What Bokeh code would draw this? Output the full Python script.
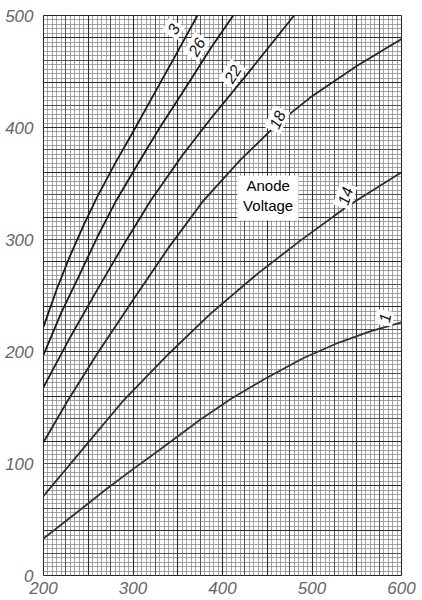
from bokeh.plotting import figure
from bokeh.models import Range1d, FixedTicker, SingleIntervalTicker, Grid, Label, BoxAnnotation
from bokeh.embed import file_html
from bokeh.resources import INLINE

# ---- data ----
x_ticks = [200, 300, 400, 500, 600]
y_ticks = [0, 100, 200, 300, 400, 500]

curve_names = ["3", "26", "22", "18", "14", "1"]
c3_x = [200, 215, 230, 245, 260, 280, 300, 325, 350, 372]
c3_y = [222, 256, 286, 313, 338, 368, 396, 432, 468, 500]
c26_x = [200, 220, 240, 260, 280, 305, 330, 360, 387, 412]
c26_y = [197, 235, 268, 302, 333, 367, 400, 437, 471, 500]
c22_x = [200, 230, 260, 290, 320, 355, 387, 431, 480]
c22_y = [168, 213, 255, 296, 335, 375, 408, 451, 500]
c18_x = [200, 227, 260, 300, 340, 379, 420, 461, 500, 550, 600]
c18_y = [119, 156, 198, 246, 293, 335, 371, 403, 428, 455, 479]
c14_x = [200, 245, 289, 340, 387, 440, 487, 540, 600]
c14_y = [71, 114, 156, 198, 234, 270, 299, 330, 360]
c10_x = [200, 240, 270, 300, 331, 375, 410, 446, 490, 530, 565, 600]
c10_y = [33, 58, 77, 95, 113, 139, 158, 175, 194, 208, 218, 226]

label_x = [345, 371, 411, 461, 537, 581]
label_y = [488, 472, 448, 407, 339, 230]
label_angle = [60, 60, 58, 65, 72, 80]

curves_x = [c3_x, c26_x, c22_x, c18_x, c14_x, c10_x]
curves_y = [c3_y, c26_y, c22_y, c18_y, c14_y, c10_y]
curve_colors = ["#1a1a1a", "#1a1a1a", "#1f1f1f", "#262626", "#2e2e2e", "#333333"]

FONT = "Liberation Sans"

p = figure(width=422, height=600, output_backend="svg", toolbar_location=None,
           x_range=Range1d(200, 600), y_range=Range1d(0, 500),
           min_border_left=43, min_border_right=21, min_border_top=15, min_border_bottom=25)
p.background_fill_color = "white"
p.border_fill_color = "white"
p.outline_line_color = "#222222"
p.outline_line_width = 1

# graph-paper grid
p.xgrid.visible = False
p.ygrid.visible = False
for dim, step, color, width in [
    (0, 5, "#8c8c8c", 0.8), (1, 4, "#8c8c8c", 0.8),
    (0, 25, "#555555", 1.0), (1, 20, "#555555", 1.0),
    (0, 50, "#2a2a2a", 1.1), (1, 40, "#2a2a2a", 1.1),
]:
    g = Grid(dimension=dim, ticker=SingleIntervalTicker(interval=step),
             grid_line_color=color, grid_line_width=width)
    p.add_layout(g, "center")

for xs, ys, col in zip(curves_x, curves_y, curve_colors):
    p.line(xs, ys, line_color=col, line_width=1.8, line_join="round")

# curve labels
for name, lx, ly, ang in zip(curve_names, label_x, label_y, label_angle):
    p.add_layout(Label(x=lx, y=ly, text=name, angle=ang, angle_units="deg",
                       text_align="center", text_baseline="middle",
                       text_font=FONT, text_font_style="italic",
                       text_font_size="16px", text_color="#111111",
                       background_fill_color="white", padding=3))

# Anode Voltage box
p.add_layout(BoxAnnotation(left=416.8, right=485, bottom=317, top=357,
                           fill_color="white", fill_alpha=1.0, line_color=None))
p.add_layout(Label(x=451, y=348, text="Anode", text_align="center", text_baseline="middle",
                   text_font="Liberation Sans", text_font_size="15px", text_color="black"))
p.add_layout(Label(x=451, y=330, text="Voltage", text_align="center", text_baseline="middle",
                   text_font="Liberation Sans", text_font_size="15px", text_color="black"))

for ax, ticks in [(p.xaxis[0], x_ticks), (p.yaxis[0], y_ticks)]:
    ax.ticker = FixedTicker(ticks=ticks)
    ax.axis_line_color = None
    ax.major_tick_line_color = None
    ax.minor_tick_line_color = None
    ax.major_label_text_font = FONT
    ax.major_label_text_font_style = "italic"
    ax.major_label_text_font_size = "17px"
    ax.major_label_text_color = "#666666"
p.xaxis.major_label_standoff = 0
p.yaxis.major_label_standoff = 4

open("out.html", "w").write(file_html(p, INLINE))
